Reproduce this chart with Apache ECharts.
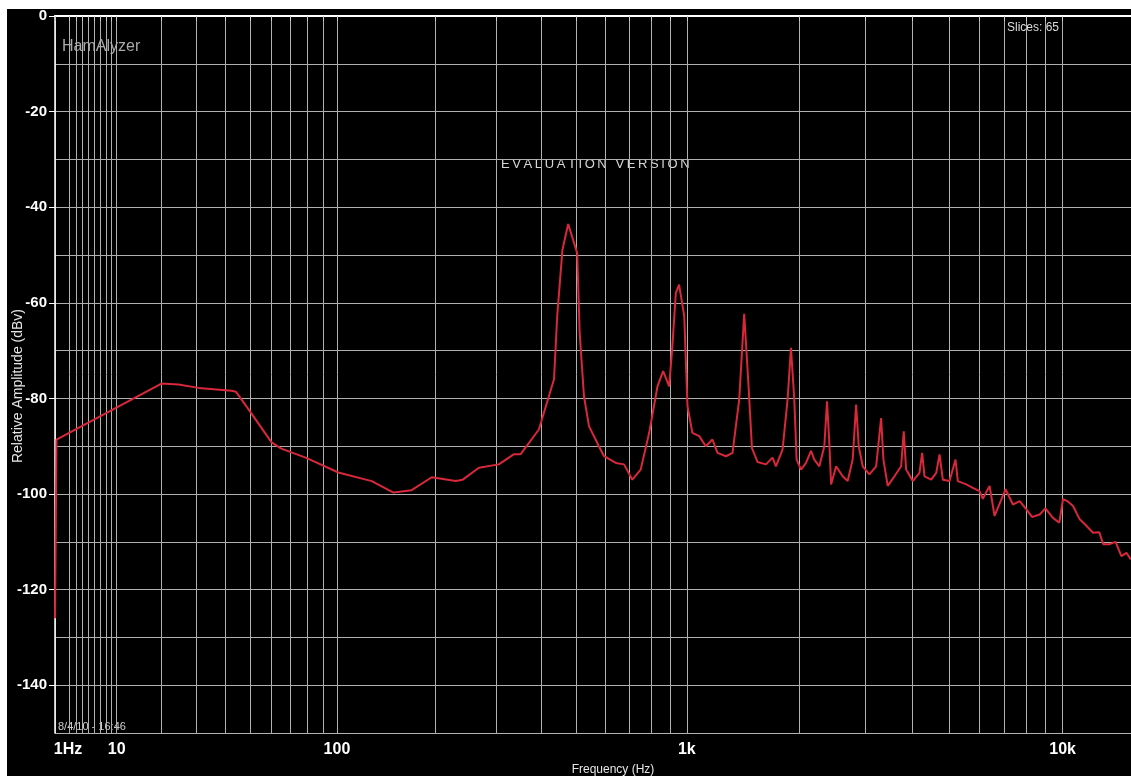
<!DOCTYPE html>
<html>
<head>
<meta charset="utf-8">
<script src="https://cdn.jsdelivr.net/npm/echarts@6/dist/echarts.min.js"></script>
<style>
html,body{margin:0;padding:0;background:#ffffff;width:1131px;height:776px;overflow:hidden;}
#chart{position:absolute;left:7px;top:9px;width:1124px;height:767px;}
</style>
</head>
<body>
<div id="chart"></div>
<script>
// ---- data ----
const FREQ_HZ = [0, 0.2, 20, 24.6, 30.6, 42.3, 44, 49.3, 60, 65, 78.9, 101, 128.7, 150, 170, 195, 229, 240,
  267, 304, 335, 350, 394, 434, 443, 458, 475, 503, 511, 525, 542, 577, 596, 642, 676, 712, 750, 791,
  833, 863, 896, 914, 934, 953, 984, 1004, 1035, 1080, 1125, 1172, 1209, 1274, 1327, 1383, 1426, 1465,
  1496, 1548, 1631, 1698, 1734, 1806, 1863, 1902, 1941, 1969, 2023, 2086, 2151, 2195, 2264, 2334, 2373,
  2407, 2433, 2509, 2612, 2693, 2777, 2836, 2882, 2953, 3076, 3206, 3305, 3352, 3441, 3585, 3735, 3795,
  3851, 4010, 4178, 4247, 4308, 4488, 4628, 4722, 4818, 5019, 5206, 5280, 5558, 5787, 6028, 6150, 6407,
  6606, 7065, 7387, 7700, 8018, 8300, 8694, 9000, 9429, 9800, 10021, 10300, 10652, 11097, 11500, 12034,
  12500, 12800, 13324, 13800, 14300, 14749, 15140];
const AMPLITUDE_DB = [-126, -88.6, -76.9, -77.1, -77.8, -78.4, -78.6, -82.3, -89.2, -90.5, -92.4, -95.5, -97.3, -99.7, -99.2, -96.5, -97.3, -97.0,
  -94.5, -93.8, -91.7, -91.7, -86.5, -76, -62.8, -48.9, -43.5, -49.6, -66.3, -79.5, -85.8, -90, -92.1, -93.5, -93.8, -97, -94.9, -87.2,
  -77.5, -74.3, -77.5, -69.1, -57.9, -56.2, -62.8, -81.6, -87.2, -87.9, -90, -88.6, -91.4, -92.1, -91.4, -80.2, -62.3, -77.5,
  -90.4, -93.3, -93.8, -92.4, -94.2, -90.7, -80.2, -69.4, -80.2, -92.8, -94.9, -93.5, -91, -92.8, -94.2, -90, -80.6,
  -89.3, -98, -94.2, -96.3, -97.3, -92.8, -81.3, -90, -94.2, -95.9, -94.2, -84.1, -92.8, -98.3, -96.3, -94.2, -86.9,
  -94.9, -97.3, -95.6, -91.4, -96.3, -97, -95.6, -91.7, -97, -97.3, -92.8, -97.3, -98, -98.7, -99.4, -101, -98.3,
  -104.6, -99, -102.2, -101.5, -103.2, -104.8, -104.3, -103, -105, -106, -101.1, -101.5, -102.5, -105.3, -106.5, -108.1,
  -108, -110.5, -110.5, -110, -113, -112.3, -113.7];

const X_GRID_HZ = [0, 2, 3, 4, 5, 6, 7, 8, 9, 10, 20, 30, 40, 50, 60, 70, 80, 90,
  100, 200, 300, 400, 500, 600, 700, 800, 900, 1000, 2000, 3000, 4000, 5000, 6000, 7000, 8000, 9000, 10000];
const X_LABEL_HZ = [0, 10, 100, 1000, 10000];
const X_LABELS = ['1Hz', '10', '100', '1k', '10k'];
const Y_LABEL_DB = [0, -20, -40, -60, -80, -100, -120, -140];
const X_MAX_HZ = 15160;

// The analyzer's frequency axis is logarithmic in (f + offset)
const FREQ_OFFSET = 22;
const xv = f => Math.log10(f + FREQ_OFFSET);

const NARROW = '"Liberation Sans Narrow", "Arial Narrow", "Liberation Sans", Arial, sans-serif';
const SANS = '"Liberation Sans", Arial, sans-serif';

const chart = echarts.init(document.getElementById('chart'));
const WATERMARK = 'EVALUATION VERSION';

const option = {
  backgroundColor: '#000000',
  animation: false,
  grid: { left: 48, right: 0, top: 7, bottom: 43, containLabel: false, outerBoundsMode: 'none' },
  xAxis: {
    type: 'value',
    min: xv(0),
    max: xv(X_MAX_HZ),
    name: 'Frequency (Hz)',
    nameLocation: 'middle',
    nameGap: 31,
    nameMoveOverlap: false,
    nameTextStyle: { color: '#e6e6e6', fontFamily: SANS, fontSize: 12, padding: [0, 0, 0, 40] },
    axisLine: { show: true, lineStyle: { color: '#ffffff', width: 2 } },
    axisTick: { show: true, length: 5, inside: false, customValues: X_GRID_HZ.map(xv), lineStyle: { color: '#cfcfcf', width: 1 } },
    splitLine: { show: true, lineStyle: { color: '#b0b0b0', width: 1 } },
    axisLabel: {
      show: true,
      customValues: X_LABEL_HZ.map(xv),
      margin: 9,
      color: '#ffffff',
      fontFamily: NARROW,
      fontWeight: 'bold',
      fontSize: 16,
      formatter: function (val) {
        let best = 0, bd = Infinity;
        X_LABEL_HZ.forEach((f, i) => { const d = Math.abs(xv(f) - val); if (d < bd) { bd = d; best = i; } });
        return best === 0 ? '{first|' + X_LABELS[0] + '}' : X_LABELS[best];
      },
      rich: {
        first: { color: '#ffffff', fontFamily: NARROW, fontWeight: 'bold', fontSize: 16, padding: [0, 0, 0, 26] }
      }
    }
  },
  yAxis: [
    {
      type: 'value', min: -150, max: 0, interval: 10,
      axisLine: { show: false },
      axisTick: { show: false },
      axisLabel: { show: false },
      splitLine: { show: true, lineStyle: { color: '#b0b0b0', width: 1 } }
    },
    {
      type: 'value', min: -150, max: 0, position: 'left',
      name: 'Relative Amplitude (dBv)',
      nameLocation: 'middle',
      nameGap: 30,
      nameMoveOverlap: false,
      nameTextStyle: { color: '#e6e6e6', fontFamily: SANS, fontSize: 14, padding: [0, 23, 0, 0] },
      axisLine: { show: true, lineStyle: { color: '#ffffff', width: 1.5 } },
      axisTick: { show: true, length: 6, customValues: Y_LABEL_DB, lineStyle: { color: '#ffffff', width: 1 } },
      axisLabel: { show: true, customValues: Y_LABEL_DB, margin: 8, color: '#ffffff', fontFamily: NARROW, fontWeight: 'bold', fontSize: 15 },
      splitLine: { show: false }
    }
  ],
  graphic: [
    { type: 'text', left: 55, top: 30, style: { text: 'HamAlyzer', fill: '#a9a9a9', font: '16px ' + SANS } },
    { type: 'text', left: 1000, top: 13, style: { text: 'Slices: 65', fill: '#dddddd', font: '12px ' + NARROW } },
    { type: 'text', left: 51, top: 712, style: { text: '8/4/10 - 16:46', fill: '#cfcfcf', font: '11px ' + NARROW } },
    {
      type: 'text', left: 494, top: 149,
      style: {
        text: WATERMARK.split('').map(ch => '{c|' + ch + '}').join(''),
        rich: { c: { fill: '#d6d6d6', fontFamily: SANS, fontSize: 13, padding: [0, 1.3, 0, 1.3] } }
      }
    }
  ],
  series: [{
    type: 'line',
    xAxisIndex: 0,
    yAxisIndex: 0,
    data: FREQ_HZ.map((f, i) => [xv(f), AMPLITUDE_DB[i]]),
    showSymbol: false,
    symbol: 'none',
    lineStyle: { color: '#d8283a', width: 2 },
    z: 5
  }]
};
chart.setOption(option);
</script>
</body>
</html>
